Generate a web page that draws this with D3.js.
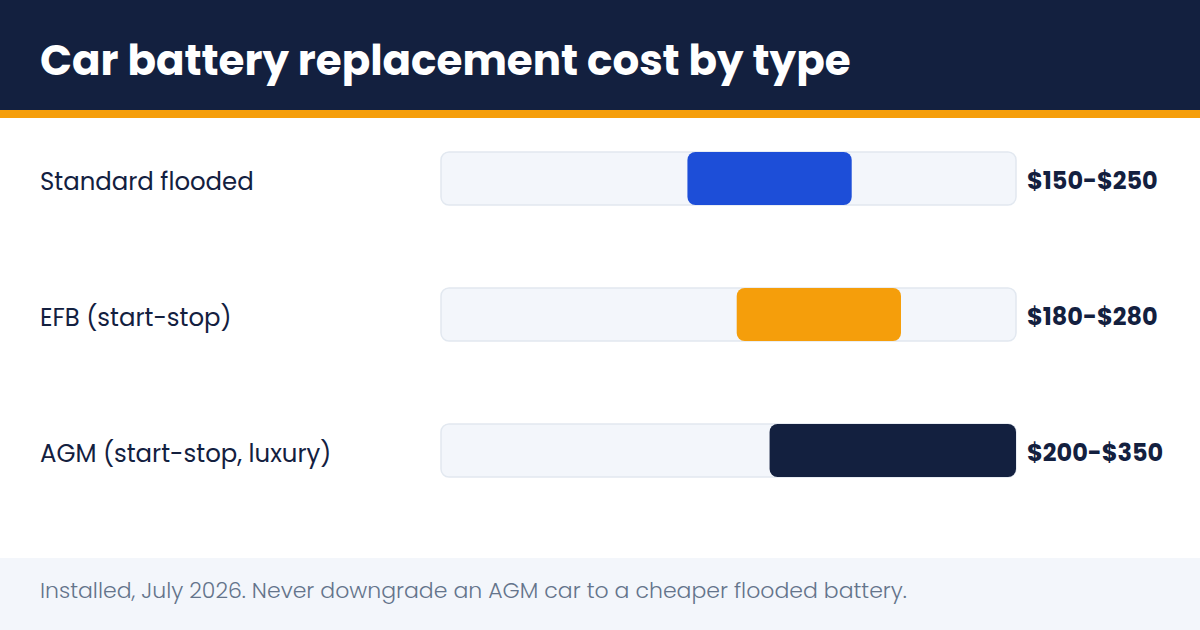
<!DOCTYPE html>
<html>
<head>
<meta charset="utf-8">
<script src="https://cdn.jsdelivr.net/npm/d3@7"></script>
<style>
  body { margin: 0; background: #fff; }
  svg { display: block; font-family: Poppins, Inter, "Open Sans", sans-serif; }
</style>
</head>
<body>
<div id="chart"></div>
<script>
var width = 1200,
    height = 630;

// data
var types = ["Standard flooded", "EFB (start-stop)", "AGM (start-stop, luxury)"];
var lowCost = [150, 180, 200];
var highCost = [250, 280, 350];
var barColors = ["#1d4ed8", "#f59e0b", "#13203f"];
var maxCost = 350;

var navy = "#13203f";

var svg = d3.select("#chart")
    .append("svg")
    .attr("width", width)
    .attr("height", height);

// header
svg.append("rect")
    .attr("width", width)
    .attr("height", 110)
    .style("fill", navy);

svg.append("rect")
    .attr("y", 110)
    .attr("width", width)
    .attr("height", 8)
    .style("fill", "#f59e0b");

svg.append("text")
    .attr("x", 40)
    .attr("y", 75)
    .style("fill", "#fff")
    .style("font-size", "42px")
    .style("font-weight", 700)
    .text("Car battery replacement cost by type");

var x = d3.scaleLinear()
    .domain([0, maxCost])
    .range([441, 1016]);

var y = d3.scaleBand()
    .domain(types)
    .range([152, 477])
    .paddingInner(0.61)
    .paddingOuter(0);

var rows = svg.append("g")
    .selectAll("g")
    .data(types)
    .enter()
    .append("g");

// track
rows.append("rect")
    .attr("x", x(0))
    .attr("y", d => y(d))
    .attr("width", x(maxCost) - x(0))
    .attr("height", y.bandwidth())
    .attr("rx", 8)
    .style("fill", "#f3f6fb")
    .style("stroke", "#e2e8f0")
    .style("stroke-width", 1.5);

// range bar
rows.append("rect")
    .attr("x", (d, i) => x(lowCost[i]))
    .attr("y", d => y(d))
    .attr("width", (d, i) => x(highCost[i]) - x(lowCost[i]))
    .attr("height", y.bandwidth())
    .attr("rx", 8)
    .style("fill", (d, i) => barColors[i]);

rows.append("text")
    .attr("x", 40)
    .attr("y", d => y(d) + y.bandwidth() / 2 + 3)
    .attr("dy", "0.35em")
    .style("fill", navy)
    .style("font-size", "24.4px")
    .text(d => d);

rows.append("text")
    .attr("x", 1027)
    .attr("y", d => y(d) + y.bandwidth() / 2 + 2)
    .attr("dy", "0.35em")
    .style("fill", navy)
    .style("font-size", "24px")
    .style("font-weight", 700)
    .text((d, i) => "$" + lowCost[i] + "-$" + highCost[i]);

// footer
svg.append("rect")
    .attr("y", 558)
    .attr("width", width)
    .attr("height", height - 558)
    .style("fill", "#f3f6fb");

svg.append("text")
    .attr("x", 40)
    .attr("y", 598)
    .style("fill", "#64748b")
    .style("font-size", "22px")
    .style("font-weight", 300)
    .text("Installed, July 2026. Never downgrade an AGM car to a cheaper flooded battery.");
</script>
</body>
</html>
